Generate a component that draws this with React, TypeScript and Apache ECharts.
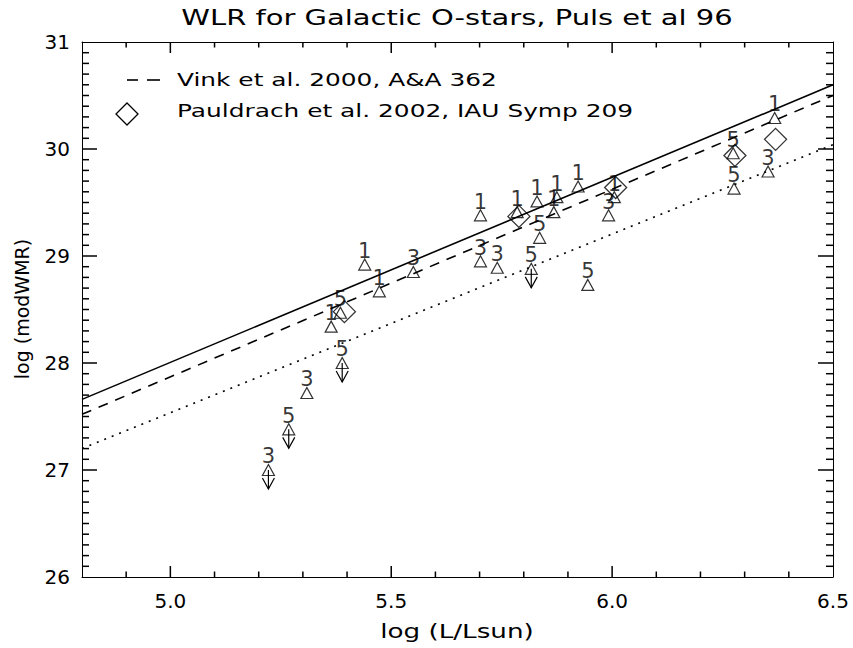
import React, { useEffect, useRef } from "react";
import * as echarts from "echarts";

// Puls et al. 96 Galactic O-stars: log L, log modWMR, luminosity class, upper limit flag
const pulsLogL = [5.222, 5.268, 5.309, 5.389, 5.364, 5.385, 5.44, 5.473, 5.55, 5.702, 5.702, 5.74, 5.785, 5.817, 5.836, 5.83, 5.875, 5.868, 5.923, 5.945, 5.992, 6.005, 6.276, 6.274, 6.353, 6.368];
const pulsLogWMR = [27.0, 27.38, 27.72, 28.0, 28.34, 28.47, 28.92, 28.67, 28.85, 29.38, 28.95, 28.89, 29.41, 28.88, 29.17, 29.51, 29.55, 29.41, 29.65, 28.73, 29.38, 29.55, 29.63, 29.96, 29.79, 30.29];
const pulsClass = ["3", "5", "3", "5", "1", "5", "1", "1", "3", "1", "3", "3", "1", "5", "5", "1", "1", "1", "1", "5", "3", "1", "5", "5", "3", "1"];
const pulsUpperLimit = [true, true, false, true, false, false, false, false, false, false, false, false, false, true, false, false, false, false, false, false, false, false, false, false, false, false];

// Pauldrach et al. 2002
const pauldrachLogL = [5.394, 5.789, 6.008, 6.278, 6.37];
const pauldrachLogWMR = [28.48, 29.37, 29.64, 29.94, 30.09];

// regression lines (endpoints at x-axis limits)
const solidFit = [[4.8, 27.66], [6.5, 30.6]];
const vinkFit = [[4.8, 27.52], [6.5, 30.5]];
const dottedFit = [[4.8, 27.2], [6.5, 30.04]];

// axis ticks
const X_MIN = 4.8;
const X_MAX = 6.5;
const Y_MIN = 26;
const Y_MAX = 31;
const xMajorTicks = [5.0, 5.5, 6.0, 6.5];
const xMinorStep = 0.1;
const yMinorStep = 0.1;

const FONT = "DejaVu Sans";
const SX = 1.38;
const TICK_COLOR = "#000";

export default function App() {
  const ref = useRef<HTMLDivElement>(null);
  useEffect(() => {
    if (!ref.current) return;
    const chart = echarts.init(ref.current, null, { renderer: "svg" });
    const black = "#000";
    const frame = () => ({ color: black, width: 1 });

    const pulsData = pulsLogL.map((x, i) => [x, pulsLogWMR[i], pulsClass[i]]);
    const upperData = pulsLogL
      .map((x, i) => [x, pulsLogWMR[i]])
      .filter((_, i) => pulsUpperLimit[i]);
    const pauldrachData = pauldrachLogL.map((x, i) => [x, pauldrachLogWMR[i]]);

    // tick positions (axis structure): [x, y, isMajor]
    const xTicks: number[][] = [];
    for (let k = 1; X_MIN + k * xMinorStep < X_MAX - 1e-6; k++) {
      const v = +(X_MIN + k * xMinorStep).toFixed(2);
      xTicks.push([v, Y_MIN, xMajorTicks.some((m) => Math.abs(m - v) < 1e-6) ? 1 : 0]);
    }
    const yTicks: number[][] = [];
    for (let k = 1; Y_MIN + k * yMinorStep < Y_MAX - 1e-6; k++) {
      const v = +(Y_MIN + k * yMinorStep).toFixed(2);
      yTicks.push([X_MIN, v, Math.abs(v - Math.round(v)) < 1e-6 ? 1 : 0]);
    }

    const option: any = {
      animation: false,
      backgroundColor: "#fff",
      grid: { left: 82, right: 20, top: 42, bottom: 71, containLabel: false },
      xAxis: [
        {
          type: "value",
          min: X_MIN,
          max: X_MAX,
          position: "bottom",
          splitLine: { show: false },
          axisLine: { show: true, onZero: false, lineStyle: frame() },
          axisTick: { show: false },
          axisLabel: {
            show: true,
            customValues: xMajorTicks,
            formatter: (v: number) => v.toFixed(1),
            fontSize: 20,
            fontFamily: FONT,
            color: black,
            margin: 14,
          },
        },
        {
          type: "value",
          min: X_MIN,
          max: X_MAX,
          position: "top",
          splitLine: { show: false },
          axisLine: { show: true, onZero: false, lineStyle: frame() },
          axisTick: { show: false },
          axisLabel: { show: false },
        },
      ],
      yAxis: [
        {
          type: "value",
          min: Y_MIN,
          max: Y_MAX,
          interval: 1,
          position: "left",
          splitLine: { show: false },
          axisLine: { show: true, onZero: false, lineStyle: frame() },
          axisTick: { show: false },
          axisLabel: { fontSize: 20, fontFamily: FONT, color: black, margin: 12 },
        },
        {
          type: "value",
          min: Y_MIN,
          max: Y_MAX,
          position: "right",
          splitLine: { show: false },
          axisLine: { show: true, onZero: false, lineStyle: frame() },
          axisTick: { show: false },
          axisLabel: { show: false },
        },
      ],
      series: [
        // x ticks, inward on bottom and top frame
        {
          type: "custom",
          data: xTicks,
          z: 5,
          renderItem: (params: any, api: any) => {
            const v = api.value(0);
            const len = api.value(2) === 1 ? 11 : 5.5;
            const b = api.coord([v, Y_MIN]);
            const t = api.coord([v, Y_MAX]);
            return {
              type: "group",
              children: [
                { type: "rect", shape: { x: b[0] - 0.75, y: b[1] - len, width: 1.5, height: len }, style: { fill: TICK_COLOR } },
                { type: "rect", shape: { x: t[0] - 0.75, y: t[1], width: 1.5, height: len }, style: { fill: TICK_COLOR } },
              ],
            };
          },
        },
        // y ticks, inward on left and right frame
        {
          type: "custom",
          data: yTicks,
          z: 5,
          renderItem: (params: any, api: any) => {
            const v = api.value(1);
            const len = api.value(2) === 1 ? 15 : 7;
            const l = api.coord([X_MIN, v]);
            const r = api.coord([X_MAX, v]);
            return {
              type: "group",
              children: [
                { type: "rect", shape: { x: l[0], y: l[1] - 0.75, width: len, height: 1.5 }, style: { fill: TICK_COLOR } },
                { type: "rect", shape: { x: r[0] - len, y: r[1] - 0.75, width: len, height: 1.5 }, style: { fill: TICK_COLOR } },
              ],
            };
          },
        },
        {
          type: "line",
          data: solidFit,
          showSymbol: false,
          symbol: "none",
          lineStyle: { color: black, width: 1.6, type: "solid" },
          z: 2,
        },
        {
          type: "line",
          data: vinkFit,
          showSymbol: false,
          symbol: "none",
          lineStyle: { color: black, width: 1.6, type: [10, 8] },
          z: 2,
        },
        {
          type: "line",
          data: dottedFit,
          showSymbol: false,
          symbol: "none",
          lineStyle: { color: black, width: 1.6, type: [2, 6] },
          z: 2,
        },
        {
          type: "scatter",
          data: pulsData,
          symbol: "triangle",
          symbolSize: [12, 11],
          itemStyle: { color: "rgba(0,0,0,0)", borderColor: black, borderWidth: 1.2 },
          label: {
            show: true,
            position: "top",
            distance: -3,
            formatter: (p: any) => p.value[2],
            fontSize: 21,
            fontFamily: FONT,
            color: black,
          },
          z: 3,
        },
        {
          type: "custom",
          data: upperData,
          renderItem: (params: any, api: any) => {
            const p = api.coord([api.value(0), api.value(1)]);
            return {
              type: "group",
              children: [
                {
                  type: "line",
                  shape: { x1: p[0], y1: p[1], x2: p[0], y2: p[1] + 19 },
                  style: { stroke: black, lineWidth: 1.2 },
                },
                {
                  type: "polyline",
                  shape: {
                    points: [
                      [p[0] - 6, p[1] + 8],
                      [p[0], p[1] + 19],
                      [p[0] + 6, p[1] + 8],
                    ],
                  },
                  style: { stroke: black, fill: "none", lineWidth: 1.2 },
                },
              ],
            };
          },
          z: 3,
        },
        {
          type: "scatter",
          data: pauldrachData,
          symbol: "diamond",
          symbolSize: 22,
          itemStyle: { color: "rgba(0,0,0,0)", borderColor: black, borderWidth: 1.3 },
          z: 4,
        },
      ],
      graphic: [
        {
          type: "text",
          x: 457,
          y: 18,
          scaleX: SX,
          style: {
            text: "WLR for Galactic O-stars, Puls et al 96",
            fontSize: 21,
            fontFamily: FONT,
            fill: black,
            align: "center",
            verticalAlign: "middle",
          },
        },
        {
          type: "text",
          x: 457,
          y: 631,
          scaleX: SX,
          style: {
            text: "log (L/Lsun)",
            fontSize: 19,
            fontFamily: FONT,
            fill: black,
            align: "center",
            verticalAlign: "middle",
          },
        },
        {
          type: "text",
          x: 22,
          y: 309,
          rotation: Math.PI / 2,
          style: {
            text: "log (modWMR)",
            fontSize: 19,
            fontFamily: FONT,
            fill: black,
            align: "center",
            verticalAlign: "middle",
          },
        },
        {
          type: "line",
          shape: { x1: 127, y1: 80, x2: 138, y2: 80 },
          style: { stroke: black, lineWidth: 1.6 },
        },
        {
          type: "line",
          shape: { x1: 147, y1: 80, x2: 160, y2: 80 },
          style: { stroke: black, lineWidth: 1.6 },
        },
        {
          type: "text",
          x: 177,
          y: 80,
          scaleX: SX,
          style: {
            text: "Vink et al. 2000, A&A 362",
            fontSize: 18,
            fontFamily: FONT,
            fill: black,
            align: "left",
            verticalAlign: "middle",
          },
        },
        {
          type: "polygon",
          shape: {
            points: [
              [127, 103],
              [138, 114],
              [127, 125],
              [116, 114],
            ],
          },
          style: { stroke: black, fill: "none", lineWidth: 1.3 },
        },
        {
          type: "text",
          x: 177,
          y: 111,
          scaleX: SX,
          style: {
            text: "Pauldrach et al. 2002, IAU Symp 209",
            fontSize: 18,
            fontFamily: FONT,
            fill: black,
            align: "left",
            verticalAlign: "middle",
          },
        },
      ],
    };
    chart.setOption(option);
    return () => chart.dispose();
  }, []);
  return (
    <div
      ref={ref}
      style={{ position: "absolute", left: 0, top: 0, width: 853, height: 648 }}
    />
  );
}
